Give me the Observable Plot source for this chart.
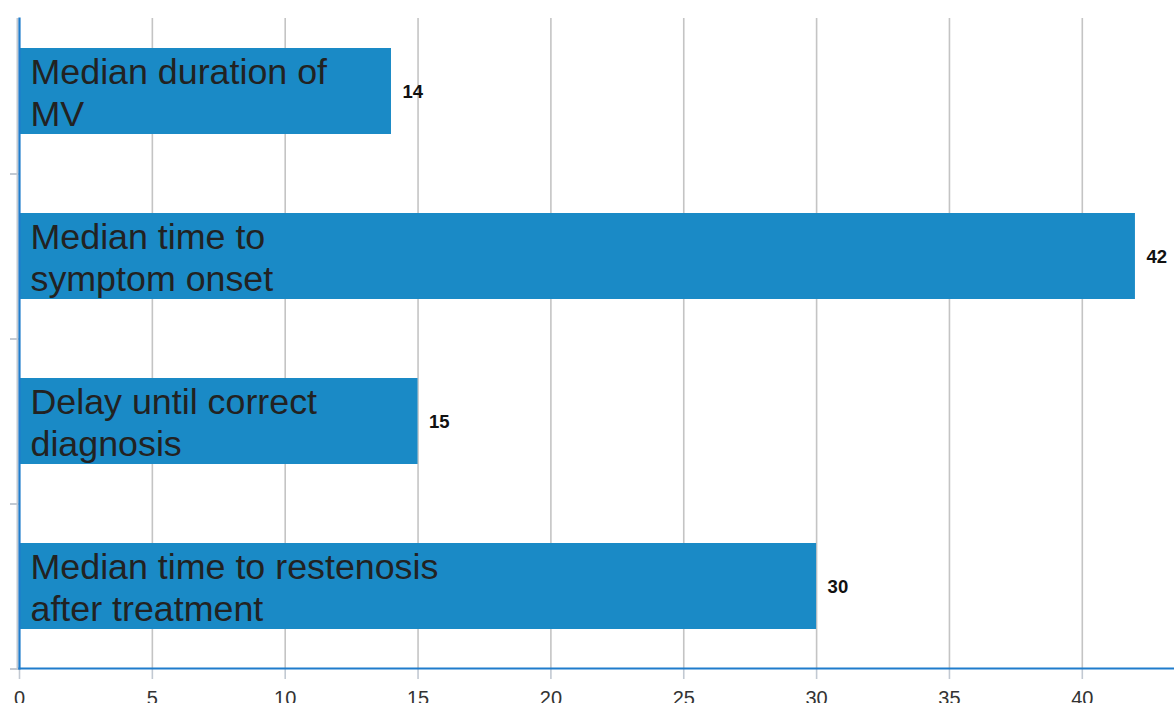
<!DOCTYPE html>
<html>
<head>
<meta charset="utf-8">
<script src="https://cdn.jsdelivr.net/npm/d3@7"></script>
<script src="https://cdn.jsdelivr.net/npm/@observablehq/plot@0.6"></script>
<style>
  html, body { margin: 0; padding: 0; background: #ffffff; overflow: hidden; }
  #chart svg { display: block; }
</style>
</head>
<body>
<div id="chart"></div>
<script>
// Time intervals (months)
const categories = [
  "Median duration of\nMV",
  "Median time to\nsymptom onset",
  "Delay until correct\ndiagnosis",
  "Median time to restenosis\nafter treatment"
];
const values = [14, 42, 15, 30];
const xTicks = [0, 5, 10, 15, 20, 25, 30, 35, 40];

const data = categories.map((c, i) => ({category: c, value: values[i]}));

const barColor = "#1a8ac6";
const axisBlue = "#1f7ccc";
const gridGray = "#c4c4c4";

const chart = Plot.plot({
  width: 1174,
  height: 703,
  marginLeft: 19,
  marginRight: 0,
  marginTop: 18,
  marginBottom: 35,
  style: {fontFamily: "'Liberation Sans', Arial, sans-serif", background: "#ffffff"},
  x: {domain: [0, 43.47], ticks: xTicks},
  y: {domain: categories, range: [8, 668], paddingInner: 0.48, paddingOuter: 0.24},
  marks: [
    // vertical gridlines
    Plot.gridX(xTicks.slice(1), {stroke: gridGray, strokeOpacity: 1, strokeWidth: 1.6}),
    // bottom axis ticks and labels
    Plot.axisX({
      ticks: xTicks,
      tickSize: 11,
      tickPadding: 11,
      stroke: "#c2c9d2",
      strokeWidth: 1.6,
      fontSize: 20,
      fill: "#333333",
      label: null
    }),
    // category boundary ticks on the left
    Plot.axisY({
      tickSize: 9,
      text: null,
      label: null,
      stroke: "#c2c9d2",
      strokeWidth: 2,
      dy: 82.5
    }),
    Plot.ruleX([0], {stroke: "#c2c9d2", strokeWidth: 2, dx: -2}),
    // bars
    Plot.barX(data, {x: "value", y: "category", fill: barColor}),
    // category names inside the bars
    Plot.text(data, {
      x: 0,
      y: "category",
      text: "category",
      textAnchor: "start",
      dx: 11,
      fontSize: 35.8,
      lineHeight: 1.17,
      fill: "#222222"
    }),
    // value labels at the bar ends
    Plot.text(data, {
      x: "value",
      y: "category",
      text: d => String(d.value),
      textAnchor: "start",
      dx: 11,
      dy: 1,
      fontSize: 18.5,
      fontWeight: "bold",
      fill: "#111111",
      letterSpacing: "1.5px"
    }),
    Plot.frame({anchor: "left", stroke: axisBlue, strokeWidth: 2.2}),
    Plot.frame({anchor: "bottom", stroke: axisBlue, strokeWidth: 2.2})
  ]
});

document.getElementById("chart").appendChild(chart);
</script>
</body>
</html>
